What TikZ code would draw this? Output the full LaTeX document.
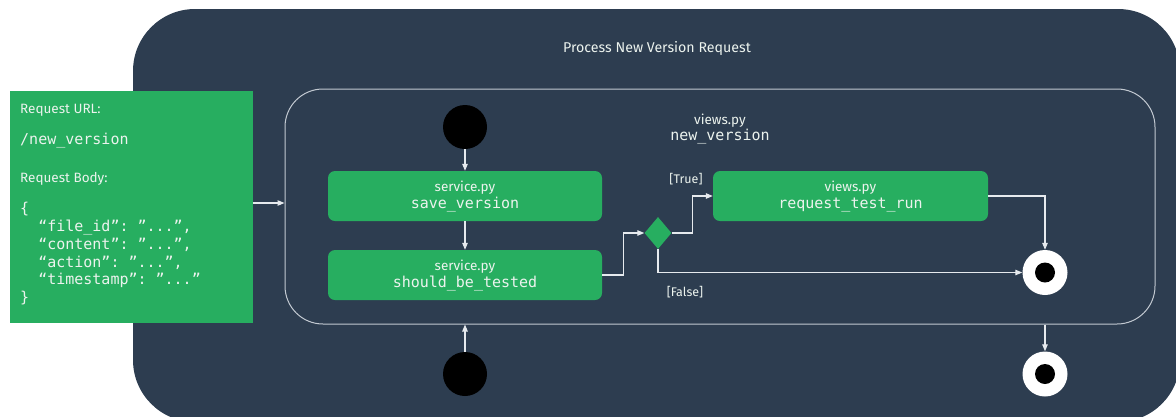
\documentclass[tikz,border=0pt]{standalone}
\usepackage{fontspec}
\setmainfont{Fira Sans}
\setmonofont{DejaVu Sans Mono}
\usetikzlibrary{arrows.meta,shapes.geometric}
\definecolor{bg}{HTML}{2D3D50}
\definecolor{grn}{HTML}{27AE60}
\definecolor{edgec}{HTML}{E6EAEE}
\definecolor{framec}{HTML}{C3CAD2}
\definecolor{txt}{HTML}{ECF3EE}
\begin{document}
\begin{tikzpicture}[x=1pt,y=-1pt,
  conn/.style={draw=edgec, line width=1.1pt, -{Triangle[length=7pt,width=5.5pt]}},
  actbox/.style={fill=grn, rounded corners=7pt, minimum width=274pt, minimum height=50pt,
    inner sep=0pt, align=center, text=txt, font=\fontsize{13.5}{17}\selectfont},
  startdot/.style={circle, fill=black, minimum size=44pt, inner sep=0pt},
  enddot/.style={circle, fill=white, minimum size=45pt, inner sep=0pt},
  enddotin/.style={circle, fill=black, minimum size=20pt, inner sep=0pt},
  lbl/.style={text=txt, inner sep=0pt, font=\fontsize{12.5}{14}\selectfont},
  mono/.style={font=\fontsize{15}{18}\selectfont\ttfamily}
]
\useasboundingbox (0,0) rectangle (1176,416);
\clip (0,0) rectangle (1176,416);
% outer panel
\fill[bg, rounded corners=62pt] (133,9) rectangle (1180,422);
\node[lbl, font=\fontsize{14.2}{16}\selectfont] (title) at (657,48) {Process New Version Request};
% inner frame
\node[draw=framec, line width=1pt, rounded corners=38pt, minimum width=870pt, minimum height=235pt, inner sep=0pt] (frame) at (720,206.5) {};
\node[lbl, align=center, font=\fontsize{13.5}{17}\selectfont] (vtitle) at (720,128.5) {views.py\\[-1pt]{\fontsize{15}{17}\selectfont\ttfamily new\_version}};
% left request box
\node[fill=grn, minimum width=243pt, minimum height=232pt, inner sep=0pt] (req) at (131.5,207) {};
\node[lbl, anchor=west, font=\fontsize{13.5}{16}\selectfont] (url) at (20,110) {Request URL:};
\node[lbl, anchor=west, inner sep=0pt, mono] (urlv) at (20,141) {/new\_version};
\node[lbl, anchor=west, font=\fontsize{13.5}{16}\selectfont] (body) at (20,179) {Request Body:};
\node[lbl, anchor=north west, inner sep=0pt, align=left, font=\fontsize{15}{17.8}\selectfont\ttfamily] (bodyv) at (20,202) {\{\\
\ \ “file\_id”: ”...”,\\
\ \ “content”: ”...”,\\
\ \ “action”: ”...”,\\
\ \ “timestamp”: ”...”\\
\}};
% activity nodes
\node[startdot] (s1) at (465,127) {};
\node[actbox] (save) at (465,196) {service.py\\{\fontsize{15}{17}\selectfont\ttfamily save\_version}};
\node[actbox] (should) at (465,275) {service.py\\{\fontsize{15}{17}\selectfont\ttfamily should\_be\_tested}};
\node[diamond, fill=grn, minimum width=27pt, minimum height=32pt, inner sep=0pt] (dec) at (658,233) {};
\node[actbox, minimum width=275pt] (rtr) at (850.5,196) {views.py\\{\fontsize{15}{17}\selectfont\ttfamily request\_test\_run}};
\node[enddot] (e1) at (1045,272.5) {};
\node[enddotin] (e1in) at (1045,272.5) {};
\node[lbl] (ltrue) at (686,179) {[True]};
\node[lbl] (lfalse) at (685,292) {[False]};
% outer start/end
\node[startdot] (s2) at (465,374) {};
\node[enddot] (e2) at (1045,374) {};
\node[enddotin] (e2in) at (1045,374) {};
% connectors
\draw[conn] (req.east |- 0,203) -- (frame.west |- 0,203);
\draw[conn] (s1) -- (save);
\draw[conn] (save) -- (should);
\draw[conn] (should.east) -- ++(21,0) |- (dec.west);
\draw[conn] (dec.east) -- ++(21,0) |- (rtr.west);
\draw[conn] (rtr.east) -| (e1.north);
\draw[conn] (dec.south) |- (e1.west);
\draw[conn] (s2.north) -- (s2 |- frame.south);
\draw[conn] (e2 |- frame.south) -- (e2.north);
\end{tikzpicture}
\end{document}
